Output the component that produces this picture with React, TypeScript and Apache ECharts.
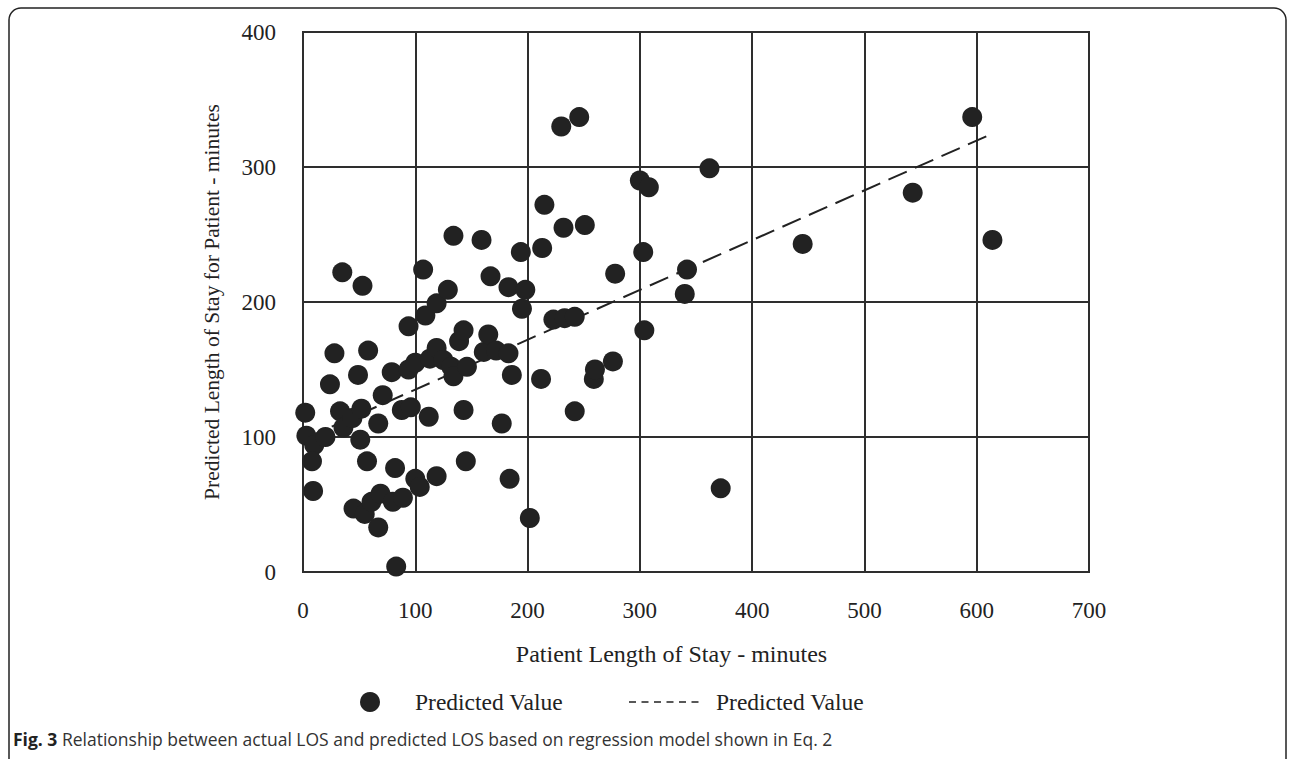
import React, { useEffect, useRef } from "react";
import * as echarts from "echarts";

// Actual LOS (x, minutes) and predicted LOS (y, minutes)
const actualLOS = [
  2, 3, 10, 8, 9, 20, 24, 28, 33, 35, 36, 44, 49, 51, 52, 53, 58, 57, 45, 55,
  61, 69, 67, 67, 71, 79, 80, 82, 83, 89, 88, 96, 94, 100, 94, 100, 104, 107, 109, 112,
  113, 119, 119, 119, 125, 129, 132, 134, 134, 139, 143, 143, 145, 146, 159, 161, 165, 167, 172, 177,
  183, 183, 184, 186, 194, 195, 198, 202, 212, 213, 215, 223, 230, 232, 233, 242, 242, 246, 251, 259,
  260, 276, 278, 300, 303, 304, 308, 340, 342, 362, 372, 445, 543, 596, 614,
];
const predictedLOS = [
  118, 101, 94, 82, 60, 100, 139, 162, 119, 222, 107, 114, 146, 98, 121, 212, 164, 82, 47, 43,
  52, 58, 33, 110, 131, 148, 52, 77, 4, 55, 120, 122, 150, 155, 182, 69, 63, 224, 190, 115,
  158, 199, 166, 71, 157, 209, 152, 145, 249, 171, 179, 120, 82, 152, 246, 163, 176, 219, 164, 110,
  211, 162, 69, 146, 237, 195, 209, 40, 143, 240, 272, 187, 330, 255, 188, 189, 119, 337, 257, 143,
  150, 156, 221, 290, 237, 179, 285, 206, 224, 299, 62, 243, 281, 337, 246,
];
// Dashed fitted line ("Predicted Value")
const fitX = [2, 612];
const fitY = [99, 324];

const seriesName = "Predicted Value";
const xAxisTitle = "Patient Length of Stay - minutes";
const yAxisTitle = "Predicted Length of Stay for Patient - minutes";
const captionBold = "Fig. 3";
const captionText =
  " Relationship between actual LOS and predicted LOS based on regression model shown in Eq. 2";

const INK = "#222";
const GRIDC = "#2e2e2e";
const SERIF = '"Liberation Serif", "Times New Roman", serif';
const SANS = '"Open Sans", sans-serif';

export default function App() {
  const ref = useRef<HTMLDivElement>(null);

  useEffect(() => {
    const chart = echarts.init(ref.current!, null, { renderer: "svg" });
    const points = actualLOS.map((x, i) => [x, predictedLOS[i]]);
    const fit = fitX.map((x, i) => [x, fitY[i]]);

    chart.setOption({
      animation: false,
      backgroundColor: "#fff",
      grid: {
        left: 303,
        top: 32,
        width: 786,
        height: 540,
        show: true,
        borderColor: GRIDC,
        borderWidth: 2,
        backgroundColor: "transparent",
      },
      xAxis: {
        type: "value",
        min: 0,
        max: 700,
        interval: 100,
        axisLine: { show: true, lineStyle: { color: GRIDC, width: 2 } },
        axisTick: { show: false },
        axisLabel: { color: INK, fontFamily: SERIF, fontSize: 23, margin: 27 },
        splitLine: { show: true, lineStyle: { color: GRIDC, width: 2 } },
        name: xAxisTitle,
        nameLocation: "middle",
        nameGap: 70,
        nameTextStyle: {
          color: INK,
          fontFamily: SERIF,
          fontSize: 24,
          padding: [0, 49, 0, 0],
        },
      },
      yAxis: {
        type: "value",
        min: 0,
        max: 400,
        interval: 100,
        axisLine: { show: true, lineStyle: { color: GRIDC, width: 2 } },
        axisTick: { show: false },
        axisLabel: { color: INK, fontFamily: SERIF, fontSize: 23, margin: 27 },
        splitLine: { show: true, lineStyle: { color: GRIDC, width: 2 } },
        name: yAxisTitle,
        nameLocation: "middle",
        nameGap: 80,
        nameTextStyle: { color: INK, fontFamily: SERIF, fontSize: 21.5 },
      },
      series: [
        {
          type: "line",
          name: seriesName,
          data: fit,
          symbol: "none",
          silent: true,
          z: 2,
          lineStyle: { color: INK, width: 2, type: [20, 9] },
        },
        {
          type: "scatter",
          name: seriesName,
          data: points,
          symbol: "circle",
          symbolSize: 20,
          z: 3,
          itemStyle: { color: INK, opacity: 1 },
        },
      ],
      graphic: [
        {
          type: "rect",
          silent: true,
          shape: { x: 9, y: 8, width: 1277, height: 790, r: 12 },
          style: { fill: "none", stroke: INK, lineWidth: 1.5 },
        },
        {
          type: "circle",
          silent: true,
          shape: { cx: 370, cy: 702, r: 10 },
          style: { fill: INK },
        },
        {
          type: "text",
          silent: true,
          x: 415,
          y: 702,
          style: {
            text: seriesName,
            fontFamily: SERIF,
            fontSize: 23.5,
            fill: INK,
            verticalAlign: "middle",
          },
        },
        {
          type: "line",
          silent: true,
          shape: { x1: 629, y1: 702, x2: 704, y2: 702 },
          style: { stroke: INK, lineWidth: 1.5, lineDash: [7, 5.5] },
        },
        {
          type: "text",
          silent: true,
          x: 716,
          y: 702,
          style: {
            text: seriesName,
            fontFamily: SERIF,
            fontSize: 23.5,
            fill: INK,
            verticalAlign: "middle",
          },
        },
        {
          type: "text",
          silent: true,
          x: 13,
          y: 739,
          style: {
            text: "{b|" + captionBold + "}{r|" + captionText + "}",
            verticalAlign: "middle",
            fontFamily: SANS,
            fontSize: 17.5,
            fill: "#333",
            rich: {
              b: {
                fontFamily: SANS,
                fontSize: 17.5,
                fontWeight: "bold",
                fill: "#222",
              },
              r: {
                fontFamily: SANS,
                fontSize: 17.5,
                fill: "#333",
              },
            },
          },
        },
      ],
    });

    return () => chart.dispose();
  }, []);

  return (
    <div
      ref={ref}
      style={{
        position: "fixed",
        left: 0,
        top: 0,
        width: 1292,
        height: 759,
        background: "#fff",
      }}
    />
  );
}
